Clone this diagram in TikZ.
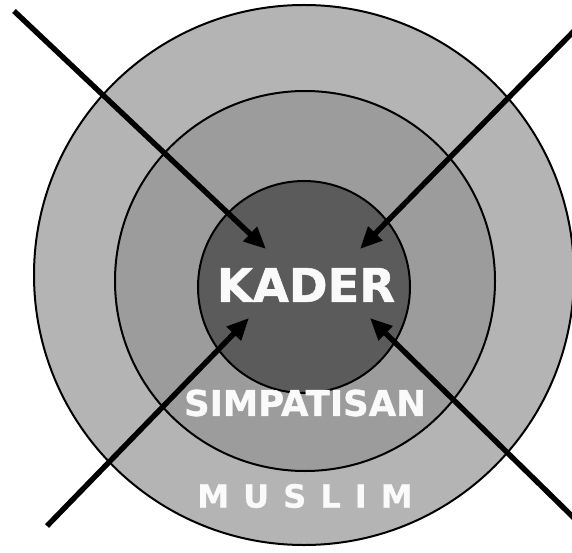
\documentclass[tikz,border=0pt]{standalone}
\usepackage{fontspec}
\setmainfont{DejaVu Sans}
\usetikzlibrary{arrows.meta}
\definecolor{ringouter}{HTML}{B4B4B4}
\definecolor{ringmid}{HTML}{9C9C9C}
\definecolor{ringin}{HTML}{5B5B5B}
\definecolor{labelwhite}{HTML}{FAFAFA}
\tikzset{
  ring/.style={circle, draw=black, line width=2pt, inner sep=0pt},
  pusharrow/.style={line width=5.4pt, -{Triangle[length=22pt,width=19pt]}},
  lbl/.style={text=labelwhite, inner sep=0pt, anchor=center}
}
\begin{document}
\begin{tikzpicture}[x=1pt,y=-1pt]
\useasboundingbox (0,0) rectangle (572,553);
\node[ring, fill=ringouter, minimum size=540pt] (outer) at (304,275) {};
\node[ring, fill=ringmid, minimum size=380pt] (middle) at (305,281) {};
\node[ring, fill=ringin, minimum size=212pt] (inner) at (304,287) {};
\coordinate (tlstart) at (14,11);
\coordinate (trstart) at (574,31);
\coordinate (blstart) at (47,526);
\coordinate (brstart) at (574,518);
\coordinate (tltip) at (266,249);
\coordinate (trtip) at (360,249);
\coordinate (bltip) at (249,318);
\coordinate (brtip) at (370,318);
\draw[pusharrow] (tlstart) -- (tltip);
\draw[pusharrow] (trstart) -- (trtip);
\draw[pusharrow] (blstart) -- (bltip);
\draw[pusharrow] (brstart) -- (brtip);
\node[lbl, font=\fontsize{46.5}{50}\selectfont\bfseries\addfontfeature{FakeBold=1.2}] (kader) at (306,285) {KADER};
\node[lbl, font=\fontsize{35.5}{40}\selectfont\bfseries\addfontfeature{FakeBold=1}] (simp) at (305,403) {SIMPATISAN};
\node[lbl, font=\fontsize{32}{36}\selectfont\bfseries\addfontfeature{LetterSpace=44,FakeBold=0.8}] (muslim) at (305,496) {MUSLIM};
\end{tikzpicture}
\end{document}
